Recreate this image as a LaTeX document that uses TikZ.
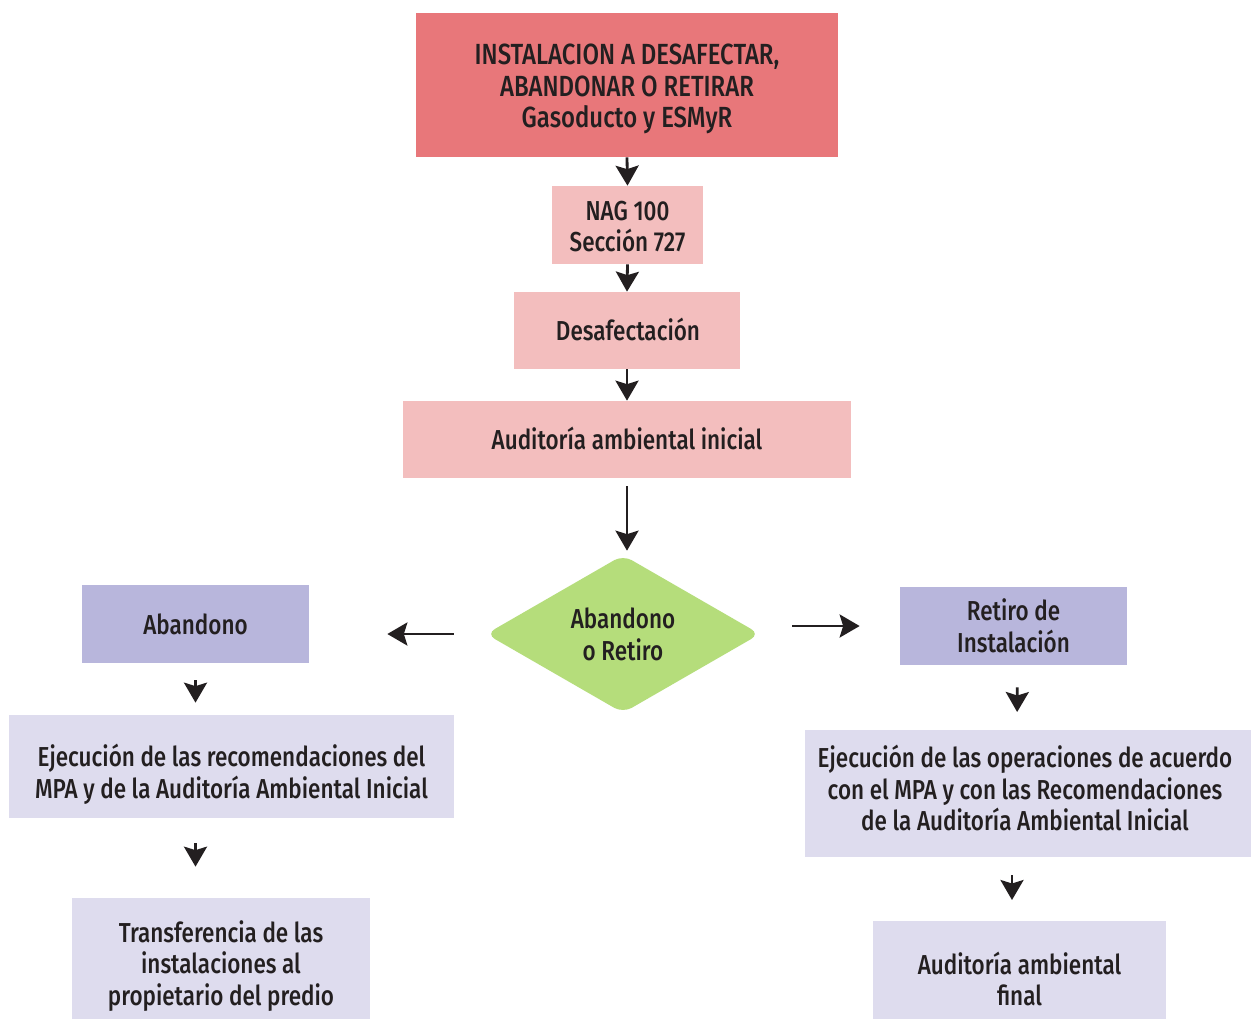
\documentclass[tikz,border=0pt]{standalone}
\usepackage{fontspec}
\setmainfont[FakeStretch=0.82]{Fira Sans Medium}
\usetikzlibrary{shapes.geometric,arrows.meta}
\definecolor{cTop}{HTML}{E8777A}
\definecolor{cPink}{HTML}{F3BEBE}
\definecolor{cGreen}{HTML}{B5DD7B}
\definecolor{cPurp}{HTML}{B8B6DC}
\definecolor{cLav}{HTML}{DEDCEE}
\definecolor{cTxt}{HTML}{231F20}
\tikzset{
  box/.style={rectangle, draw=none, inner sep=0pt},
  txt/.style={inner sep=0pt, align=center, text=cTxt,
    font=\fontsize{15.6}{18.1}\selectfont},
  arr/.style={-{Stealth[length=0.4cm,width=0.46cm,inset=0.07cm]}, line width=1.6pt, draw=cTxt},
}
\begin{document}
\begin{tikzpicture}[x=0.02cm,y=-0.02cm]
\path[use as bounding box, fill=white] (0,0) rectangle (1252,1019);
% boxes
\node[box, fill=cTop, minimum width=422*0.02cm, minimum height=144*0.02cm] (top) at (627,85) {};
\node[box, fill=cPink, minimum width=151*0.02cm, minimum height=78*0.02cm] (nag) at (627.5,225) {};
\node[box, fill=cPink, minimum width=226*0.02cm, minimum height=77*0.02cm] (des) at (627,330.5) {};
\node[box, fill=cPink, minimum width=448*0.02cm, minimum height=77*0.02cm] (aud) at (627,439.5) {};
\node[diamond, aspect=1.74, fill=cGreen, rounded corners=0.2cm, inner sep=0pt,
  minimum width=274*0.02cm, minimum height=158*0.02cm] (dia) at (623,634) {};
\node[box, fill=cPurp, minimum width=227*0.02cm, minimum height=78*0.02cm] (aban) at (195.5,624) {};
\node[box, fill=cLav, minimum width=445*0.02cm, minimum height=103*0.02cm] (ejl) at (231.5,766.5) {};
\node[box, fill=cLav, minimum width=298*0.02cm, minimum height=121*0.02cm] (tra) at (221,958.5) {};
\node[box, fill=cPurp, minimum width=227*0.02cm, minimum height=78*0.02cm] (ret) at (1013.5,626) {};
\node[box, fill=cLav, minimum width=446*0.02cm, minimum height=127*0.02cm] (ejr) at (1028,793.5) {};
\node[box, fill=cLav, minimum width=293*0.02cm, minimum height=98*0.02cm] (fin) at (1019.5,970) {};
% texts
\node[txt, font=\fontsize{16.6}{18.1}\selectfont] (topT) at (627,89)
  {INSTALACION A DESAFECTAR,\\ABANDONAR O RETIRAR\\Gasoducto y ESMyR};
\node[txt] (nagT) at (627.5,226.5) {NAG 100\\Sección 727};
\node[txt] (desT) at (628,329.5) {Desafectación};
\node[txt] (audT) at (627,438.5) {Auditoría ambiental inicial};
\node[txt] (diaT) at (623,634) {Abandono\\o Retiro};
\node[txt] (abanT) at (195.5,624) {Abandono};
\node[txt] (ejlT) at (231.5,774.5)
  {Ejecución de las recomendaciones del\\MPA y de la Auditoría Ambiental Inicial};
\node[txt] (traT) at (221,966)
  {Transferencia de las\\instalaciones al\\propietario del predio};
\node[txt] (retT) at (1013.5,626) {Retiro de\\Instalación};
\node[txt] (ejrT) at (1025,788)
  {Ejecución de las operaciones de acuerdo\\con el MPA y con las Recomendaciones\\de la Auditoría Ambiental Inicial};
\node[txt] (finT) at (1019.5,979) {Auditoría ambiental\\final};
% arrows
\draw[arr] (top.south) -- (nag.north);
\draw[arr] (nag.south) -- (des.north);
\draw[arr] (des.south) -- (aud.north);
\draw[arr, shorten <=8*0.02cm, shorten >=4*0.02cm] (aud.south) -- (aud.south |- dia.north);
\draw[arr, shorten <=32*0.02cm, shorten >=78*0.02cm] (dia.west) -- (aban.east |- dia.west);
\draw[arr, shorten <=32*0.02cm, shorten >=40*0.02cm] (dia.east |- ret.west) -- (ret.west);
\draw[arr, shorten <=17*0.02cm, shorten >=12*0.02cm] (aban.south) -- (aban.south |- ejl.north);
\draw[arr, shorten <=25*0.02cm, shorten >=31*0.02cm] (ejl.south -| aban.south) -- (aban.south |- tra.north);
\draw[arr, shorten <=22*0.02cm, shorten >=18*0.02cm] (ret.south) ++(4,0) -- (1017,730);
\draw[arr, shorten <=19*0.02cm, shorten >=21*0.02cm] (1012,856) -- (1012,921);
\end{tikzpicture}
\end{document}
